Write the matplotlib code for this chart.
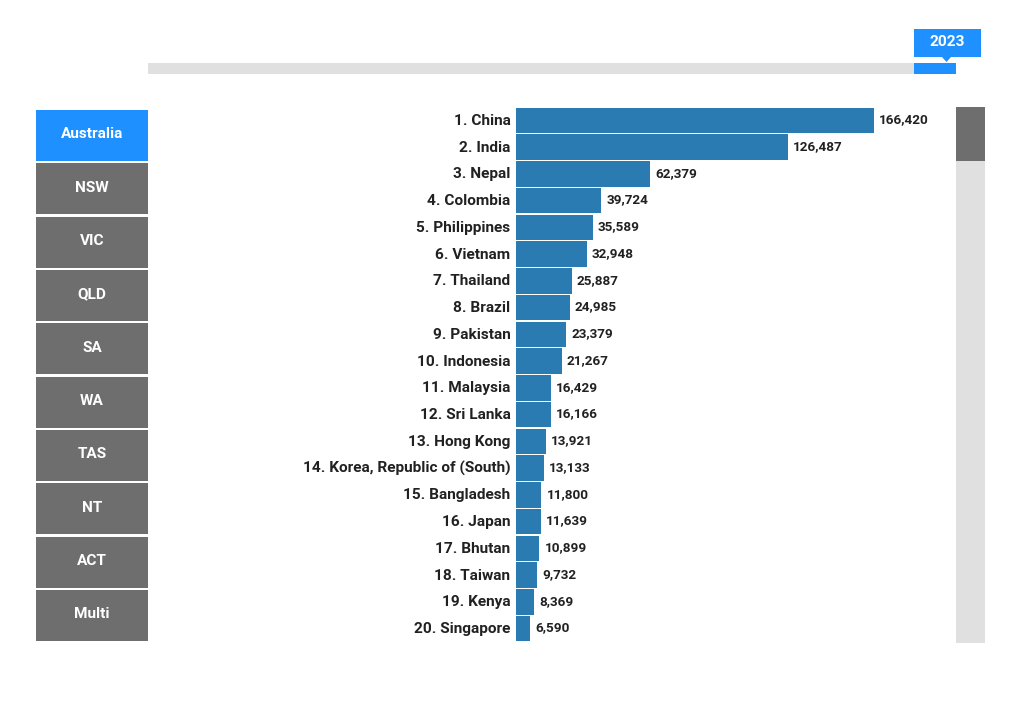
import matplotlib
matplotlib.use('Agg')
import matplotlib.pyplot as plt
from matplotlib.patches import Rectangle, Polygon
from matplotlib.transforms import ScaledTranslation

countries = ['China', 'India', 'Nepal', 'Colombia', 'Philippines', 'Vietnam',
             'Thailand', 'Brazil', 'Pakistan', 'Indonesia', 'Malaysia',
             'Sri Lanka', 'Hong Kong', 'Korea, Republic of (South)',
             'Bangladesh', 'Japan', 'Bhutan', 'Taiwan', 'Kenya', 'Singapore']
arrivals = [166420, 126487, 62379, 39724, 35589, 32948, 25887, 24985, 23379,
            21267, 16429, 16166, 13921, 13133, 11800, 11639, 10899, 9732,
            8369, 6590]
regions = ['Australia', 'NSW', 'VIC', 'QLD', 'SA', 'WA', 'TAS', 'NT', 'ACT', 'Multi']
year = '2023'

W, H = 1024, 718
BLUE = '#1e90ff'
BAR = '#2b7bb3'
GREY = '#6e6e6e'
LIGHT = '#e0e0e0'
TEXT = '#212121'

plt.rcParams['font.family'] = ['Roboto', 'DejaVu Sans']

fig = plt.figure(figsize=(W / 100, H / 100), dpi=100)

# background layer in pixel coords, y going down
bg = fig.add_axes([0, 0, 1, 1])
bg.set_xlim(0, W)
bg.set_ylim(H, 0)
bg.axis('off')


def box(x0, y0, x1, y1, color):
    bg.add_patch(Rectangle((x0, y0), x1 - x0, y1 - y0, fc=color, ec='none'))


# year slider
box(148, 63, 956, 74, LIGHT)
box(914, 63, 956, 74, BLUE)
box(914, 29, 981, 57, BLUE)
bg.add_patch(Polygon([(942, 57), (951, 57), (946.5, 62)], fc=BLUE, ec='none'))
bg.text(947.5, 42.5, year, color='white', fontsize=11.1, fontweight='bold',
        ha='center', va='center')

# region buttons
for i, name in enumerate(regions):
    top = 110 + i * 53.33
    box(36, top, 148, top + 51, BLUE if i == 0 else GREY)
    bg.text(92, top + 24.5, name, color='white', fontsize=11.1, fontweight='bold',
            ha='center', va='center')

# scroll bar
box(956, 107, 985, 643, LIGHT)
box(956, 107, 985, 161, GREY)

# bars
x0, x1, y0, y1 = 516, 956, 107, 642
ax = fig.add_axes([x0 / W, 1 - y1 / H, (x1 - x0) / W, (y1 - y0) / H])
ax.patch.set_alpha(0)
px_per_unit = (874 - x0) / arrivals[0]
ax.set_xlim(0, (x1 - x0) / px_per_unit)
ax.set_ylim(len(countries) - 0.5, -0.5)
pos = list(range(len(countries)))
bars = ax.barh(pos, arrivals, height=0.95, color=BAR)
values = ax.bar_label(bars, labels=[f'{v:,}' for v in arrivals], padding=3.6,
                      fontsize=9.7, fontweight='bold', color=TEXT)
for t in values:
    t.xyann = (t.xyann[0], t.xyann[1] + 0.5)
ax.set_yticks(pos, [f'{i + 1}. {c}' for i, c in enumerate(countries)])
ax.tick_params(axis='y', length=0, pad=4, labelsize=11.05, labelcolor=TEXT)
# labels sit about a pixel above the bar centres
nudge = ScaledTranslation(0, 0.7 / 72, fig.dpi_scale_trans)
for lab in ax.get_yticklabels():
    lab.set_fontweight('bold')
    lab.set_transform(lab.get_transform() + nudge)
ax.set_xticks([])
for s in ax.spines.values():
    s.set_visible(False)

fig.savefig('out.png', dpi=100)
